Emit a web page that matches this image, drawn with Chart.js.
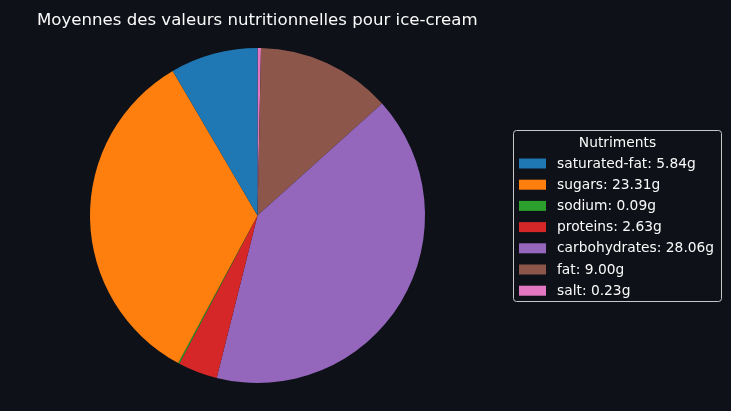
<!DOCTYPE html>
<html>
<head>
<meta charset="utf-8">
<script src="https://cdn.jsdelivr.net/npm/chart.js@4"></script>
<style>
html,body{margin:0;padding:0;background:#0e1117;}
#wrap{width:731px;height:411px;position:relative;}
</style>
</head>
<body>
<div id="wrap"><canvas id="c" width="731" height="411"></canvas></div>
<script>
const titleText = "Moyennes des valeurs nutritionnelles pour ice-cream";
const legendTitle = "Nutriments";
const categories = ["saturated-fat", "sugars", "sodium", "proteins", "carbohydrates", "fat", "salt"];
const values = [5.84, 23.31, 0.09, 2.63, 28.06, 9.00, 0.23];
const colors = ["#1f77b4", "#ff7f0e", "#2ca02c", "#d62728", "#9467bd", "#8c564b", "#e377c2"];

// matplotlib draws counter-clockwise from the top; Chart.js draws clockwise,
// so feed the slices in reverse order.
const revLabels = categories.slice().reverse();
const revValues = values.slice().reverse();
const revColors = colors.slice().reverse();

const FONT = "'DejaVu Sans', sans-serif";

const overlay = {
  id: 'overlay',
  afterDraw(chart) {
    const ctx = chart.ctx;
    ctx.save();
    // title
    ctx.fillStyle = '#fafafa';
    ctx.font = '16.6px ' + FONT;
    ctx.textBaseline = 'alphabetic';
    ctx.textAlign = 'left';
    ctx.fillText(titleText, 37, 24.5);
    // legend box
    const bx = 513.5, by = 130.5, bw = 208, bh = 171;
    ctx.fillStyle = '#0e1117';
    ctx.strokeStyle = '#c8c8c8';
    ctx.lineWidth = 1;
    ctx.beginPath();
    ctx.roundRect(bx, by, bw, bh, 3);
    ctx.fill();
    ctx.stroke();
    ctx.font = '13.8px ' + FONT;
    ctx.fillStyle = '#fafafa';
    ctx.textAlign = 'center';
    ctx.textBaseline = 'middle';
    ctx.fillText(legendTitle, 617.5, 143);
    ctx.textAlign = 'left';
    const rowH = 21.2;
    for (let i = 0; i < categories.length; i++) {
      const cy = 163.5 + i * rowH;
      ctx.fillStyle = colors[i];
      ctx.fillRect(519, cy - 5, 27, 10);
      ctx.fillStyle = '#fafafa';
      ctx.fillText(categories[i] + ': ' + values[i].toFixed(2) + 'g', 557, cy + 0.5);
    }
    ctx.restore();
  }
};

new Chart(document.getElementById('c'), {
  type: 'pie',
  data: {
    labels: revLabels,
    datasets: [{
      data: revValues,
      backgroundColor: revColors,
      borderWidth: 0,
      hoverOffset: 0
    }]
  },
  options: {
    responsive: false,
    animation: false,
    rotation: 0,
    layout: { padding: { left: 90, right: 306, top: 48, bottom: 28 } },
    plugins: {
      legend: { display: false },
      tooltip: { enabled: false },
      title: { display: false }
    }
  },
  plugins: [overlay]
});
</script>
</body>
</html>
